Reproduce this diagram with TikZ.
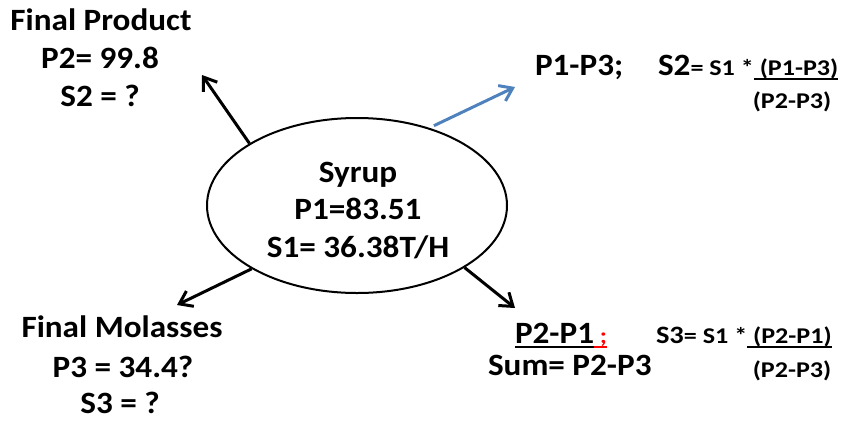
\documentclass[tikz,border=0pt]{standalone}
\usepackage{fontspec}
\usepackage{graphicx}
\setmainfont{Carlito}
\usetikzlibrary{arrows.meta,shapes.geometric}

\definecolor{flowblue}{HTML}{4F81BD}
\definecolor{notered}{HTML}{FF0000}

% text sizes, each set a little wider than the plain face
\newcommand\bigt[1]{\scalebox{1.07}[1]{\fontsize{31}{37}\selectfont #1}}
\newcommand\smallt[1]{\scalebox{1.16}[1]{\fontsize{22.5}{27}\selectfont #1}}
\newcommand\midt[1]{\scalebox{1.14}[1]{\fontsize{25}{29}\selectfont #1}}
\newsavebox\ulbox
% thick underline drawn under a piece of text, optional colour
\newcommand\thickul[2][black]{\sbox\ulbox{#2}\rlap{\color{#1}\rule[-5pt]{\wd\ulbox}{2pt}}\usebox\ulbox}

\begin{document}
\begin{tikzpicture}[x=1pt, y=-1pt,
  lbl/.style={inner sep=0pt, outer sep=0pt, anchor=base, font=\bfseries},
  lblw/.style={lbl, anchor=base west},
  flowarrow/.style={line width=3pt, -{Straight Barb[length=12pt, width=17pt]}},
  bluearrow/.style={flowarrow, draw=flowblue}]
  \useasboundingbox (0,0) rectangle (850,421);

  % central syrup ellipse
  \node[draw, ellipse, line width=2pt, minimum width=300pt, minimum height=175pt, inner sep=0pt] (syrup) at (357,205.5) {};
  \node[lbl] (syrupname) at (358,182) {\bigt{Syrup}};
  \node[lbl] (syrupp) at (358,219) {\bigt{P1=83.51}};
  \node[lbl] (syrups) at (358,257) {\bigt{S1= 36.38T/H}};

  % final product
  \node[lbl] (fpname) at (101,30) {\bigt{Final Product}};
  \node[lbl] (fpp) at (100,68) {\bigt{P2= 99.8}};
  \node[lbl] (fps) at (100,106) {\bigt{S2 = ?}};

  % final molasses
  \node[lbl] (fmname) at (122,337) {\bigt{Final Molasses}};
  \node[lbl] (fmp) at (123,377) {\bigt{P3 = 34.4?}};
  \node[lbl] (fms) at (120,413) {\bigt{S3 = ?}};

  % product yield formula
  \node[lblw] (diff13) at (535,75) {\bigt{P1-P3;}};
  \node[lblw] (s2eq) at (658,75) {\bigt{S2}\smallt{= S1 *\thickul{ (P1-P3)}}};
  \node[lbl] (s2den) at (792,108) {\smallt{(P2-P3)}};

  % molasses yield formula
  \node[lblw] (diff21) at (515,343) {\bigt{\thickul{P2-P1}}\smallt{\color{notered}\thickul[notered]{ ;}}};
  \node[lblw] (sumeq) at (488,375) {\bigt{Sum= P2-P3}};
  \node[lblw] (s3eq) at (656,343) {\midt{S3}\smallt{= S1 *\thickul{ (P2-P1)}}};
  \node[lbl] (s3den) at (792,377) {\smallt{(P2-P3)}};

  % arrow ends
  \coordinate (fptip) at (202,75);
  \coordinate (fmtip) at (177,305);
  \coordinate (mtip) at (515,308);
  \coordinate (ptip) at (515,87);

  \draw[flowarrow] (syrup.150) -- (fptip);
  \draw[flowarrow] (syrup.211) -- (fmtip);
  \draw[flowarrow] (syrup.330) -- (mtip);
  \draw[bluearrow, shorten <=5pt] (syrup.47) -- (ptip);
\end{tikzpicture}
\end{document}
